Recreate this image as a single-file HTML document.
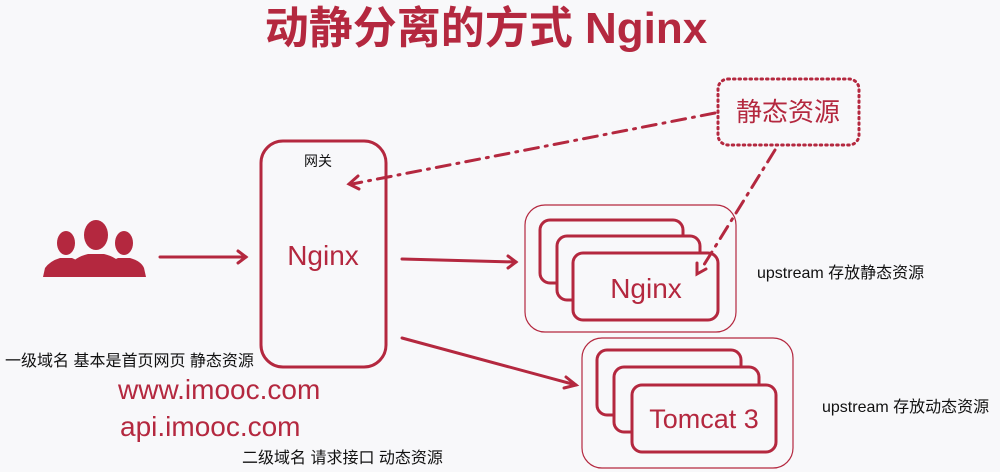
<!DOCTYPE html>
<html><head><meta charset="utf-8"><style>
html,body{margin:0;padding:0;background:#f8f8fa;}
svg{display:block;}
</style></head><body>
<svg width="1000" height="472" viewBox="0 0 1000 472" xmlns="http://www.w3.org/2000/svg" font-family="Liberation Sans, Noto Sans CJK SC, sans-serif">
<rect width="1000" height="472" fill="#f8f8fa"/>
<g fill="#b4283f">
<text x="486" y="43" font-size="44" font-weight="bold" text-anchor="middle">动静分离的方式 Nginx</text>
</g>
<g fill="#b4283f">
<ellipse cx="66" cy="243" rx="9" ry="12"/><path d="M43 277 L45 268 Q50 261 60 258 L72 258 Q80 261 84 268 L84 277Z"/>
<ellipse cx="124" cy="243" rx="9" ry="12"/><path d="M104 277 L104 268 Q110 261 118 258 L130 258 Q141 261 144 268 L146 277Z"/>
<ellipse cx="96" cy="235" rx="12" ry="15"/><path d="M67 277 L69 266 Q75 257 88 254 L104 254 Q117 257 123 266 L125 277Z"/>
</g>
<g stroke="#b4283f" fill="#f8f8fa">
<rect x="525" y="205" width="211" height="127" rx="20" stroke-width="1.2"/>
<rect x="540" y="220" width="143" height="63" rx="10" stroke-width="3"/>
<rect x="557" y="236" width="143" height="64" rx="10" stroke-width="3"/>
<rect x="573" y="253" width="145" height="67" rx="10" stroke-width="3"/>
<rect x="582" y="338" width="211" height="130" rx="20" stroke-width="1.2"/>
<rect x="597" y="350" width="144" height="65" rx="10" stroke-width="3"/>
<rect x="614" y="367" width="145" height="65" rx="10" stroke-width="3"/>
<rect x="632" y="385" width="144" height="67" rx="10" stroke-width="3"/>
</g>
<g stroke="#b4283f" fill="none" stroke-width="3" stroke-linecap="round">
<rect x="261" y="141" width="125" height="226" rx="22"/>
<line x1="160" y1="257" x2="246" y2="257"/><polyline points="238,251 246,257 238,263"/>
<line x1="402" y1="259" x2="516" y2="262"/><polyline points="508,256 516,262 508,268"/>
<line x1="402" y1="338" x2="576" y2="385"/><polyline points="566,377 576,385 564,388"/>
<rect x="718" y="79" width="141" height="66" rx="10" stroke-dasharray="1.5 4" stroke-width="3"/>
<line x1="715" y1="113" x2="352" y2="184" stroke-dasharray="14 7 2 7"/><polyline points="358,176 349,184 359,189"/>
<line x1="775" y1="150" x2="702" y2="268" stroke-dasharray="14 7 2 7"/><polyline points="697,263 697,274 706,269"/>
</g>
<g fill="#b4283f">
<text x="323" y="265" font-size="28" text-anchor="middle">Nginx</text>
<text x="646" y="298" font-size="28" text-anchor="middle">Nginx</text>
<text x="704" y="428" font-size="27" text-anchor="middle">Tomcat 3</text>
<text x="788" y="121" font-size="26" text-anchor="middle">静态资源</text>
<text x="118" y="399" font-size="28">www.imooc.com</text>
<text x="120" y="436" font-size="28">api.imooc.com</text>
</g>
<g fill="#111" font-size="14">
<text x="318" y="166" text-anchor="middle">网关</text>
<text x="757" y="278" font-size="16">upstream 存放静态资源</text>
<text x="822" y="412" font-size="16">upstream 存放动态资源</text>
<text x="5" y="366" font-size="16">一级域名 基本是首页网页 静态资源</text>
<text x="242" y="463" font-size="16">二级域名 请求接口 动态资源</text>
</g>
</svg>
</body></html>
